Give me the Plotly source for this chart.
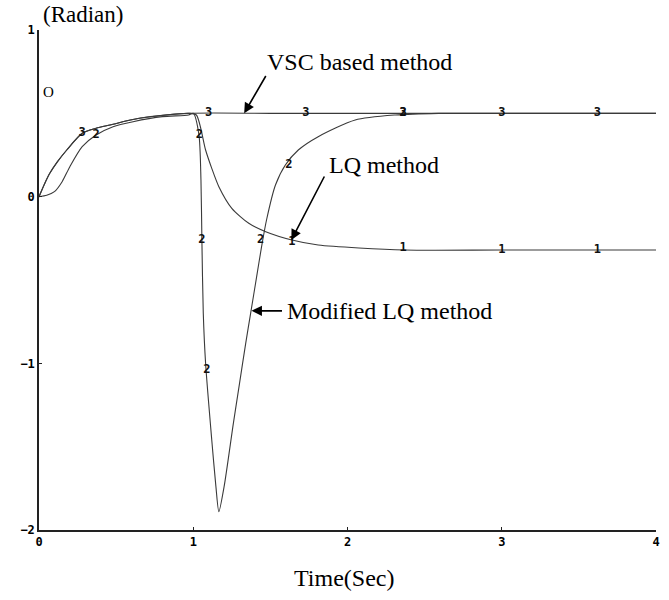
import plotly.graph_objects as go

# ---- data ----
vsc_t = [0, 0.035, 0.07, 0.12, 0.18, 0.28, 0.37, 0.46, 0.65, 0.97, 1.5, 2.0, 3.0, 4.0]
vsc_y = [0, 0.075, 0.14, 0.21, 0.28, 0.38, 0.41, 0.43, 0.47, 0.5, 0.5, 0.5, 0.5, 0.5]

lq_t = [0, 0.035, 0.07, 0.12, 0.18, 0.28, 0.37, 0.46, 0.65, 0.97, 1.02, 1.08, 1.12, 1.166, 1.25, 1.36, 1.47, 1.64, 1.81, 2.37, 3.0, 4.0]
lq_y = [0, 0.075, 0.14, 0.21, 0.28, 0.38, 0.41, 0.43, 0.47, 0.5, 0.49, 0.28, 0.17, 0.06, -0.07, -0.16, -0.21, -0.26, -0.29, -0.32, -0.32, -0.32]

mlq_t = [0, 0.05, 0.1, 0.15, 0.2, 0.28, 0.37, 0.48, 0.61, 0.8, 0.97, 1.0, 1.037, 1.05, 1.056, 1.065, 1.08, 1.12, 1.147, 1.166,
         1.20, 1.26, 1.30, 1.34, 1.372, 1.411, 1.443, 1.475, 1.533, 1.597, 1.681, 1.81, 2.05, 2.31, 2.59, 3.0, 4.0]
mlq_y = [0, 0.008, 0.03, 0.09, 0.18, 0.30, 0.37, 0.42, 0.45, 0.48, 0.49, 0.5, 0.37, 0.1, -0.26, -0.7, -1.0, -1.46, -1.74, -1.89,
         -1.74, -1.36, -1.12, -0.88, -0.70, -0.48, -0.30, -0.14, 0.07, 0.19, 0.28, 0.36, 0.46, 0.49, 0.5, 0.5, 0.5]

# curve id labels placed along the curves
lab3_t = [0.28, 1.1, 1.73, 2.36, 3.0, 3.62]
lab3_y = [0.38, 0.5, 0.5, 0.5, 0.5, 0.5]
lab2_t = [0.37, 1.04, 1.056, 1.089, 1.436, 1.62, 2.36]
lab2_y = [0.37, 0.37, -0.26, -1.04, -0.26, 0.19, 0.5]
lab1_t = [1.64, 2.36, 3.0, 3.62]
lab1_y = [-0.27, -0.31, -0.32, -0.32]

x_ticks = [0, 1, 2, 3, 4]
y_ticks = [-2, -1, 0, 1]

fig = go.Figure()
line_col = "#3a3a3a"
for t, y in [(vsc_t, vsc_y), (lq_t, lq_y), (mlq_t, mlq_y)]:
    fig.add_trace(go.Scatter(x=t, y=y, mode="lines",
                             line=dict(color=line_col, width=1.1, shape="spline", smoothing=0.7),
                             showlegend=False, hoverinfo="skip"))

lab_font = dict(family="DejaVu Sans Mono", size=12, color="#111", weight="bold")
for t, y, s in [(lab3_t, lab3_y, "3"), (lab2_t, lab2_y, "2"), (lab1_t, lab1_y, "1")]:
    fig.add_trace(go.Scatter(x=t, y=y, mode="text", text=[s] * len(t),
                             textfont=lab_font, textposition="middle center",
                             showlegend=False, hoverinfo="skip"))

serif = dict(family="Liberation Serif", size=24, color="black")
ann = []
# arrows
ann.append(dict(x=1.33, y=0.5, ax=1.476, ay=0.733, xref="x", yref="y", axref="x", ayref="y",
                text="", showarrow=True, arrowhead=2, arrowsize=1.3, arrowwidth=1.6, arrowcolor="black"))
ann.append(dict(x=1.636, y=-0.26, ax=1.855, ay=0.13, xref="x", yref="y", axref="x", ayref="y",
                text="", showarrow=True, arrowhead=2, arrowsize=1.3, arrowwidth=1.6, arrowcolor="black"))
ann.append(dict(x=1.378, y=-0.685, ax=1.585, ay=-0.685, xref="x", yref="y", axref="x", ayref="y",
                text="", showarrow=True, arrowhead=2, arrowsize=1.3, arrowwidth=1.6, arrowcolor="black"))
# texts
ann.append(dict(x=1.465, y=0.81, xref="x", yref="y", text="VSC based method", showarrow=False,
                xanchor="left", yanchor="middle", font=serif))
ann.append(dict(x=1.87, y=0.19, xref="x", yref="y", text="LQ method", showarrow=False,
                xanchor="left", yanchor="middle", font=serif))
ann.append(dict(x=1.595, y=-0.685, xref="x", yref="y", text="Modified LQ method", showarrow=False,
                xanchor="left", yanchor="middle", font=serif))
ann.append(dict(x=0.015, y=0.63, xref="x", yref="y", text="O", showarrow=False,
                xanchor="left", yanchor="middle", font=dict(family="Liberation Serif", size=15, color="black")))
ann.append(dict(x=0.015, y=1.03, xref="x", yref="paper", text="(Radian)", showarrow=False,
                xanchor="left", yanchor="middle", font=dict(family="Liberation Serif", size=23, color="black")))
ann.append(dict(x=1.98, y=-0.096, xref="x", yref="paper", text="Time(Sec)", showarrow=False,
                xanchor="center", yanchor="middle", font=serif))

tick_font = dict(family="DejaVu Sans Mono", size=12, color="black", weight="bold")
fig.update_layout(
    width=669, height=600,
    margin=dict(l=39, r=9, t=30, b=70),
    plot_bgcolor="white", paper_bgcolor="white",
    annotations=ann,
    xaxis=dict(range=[0, 4], tickvals=x_ticks, showgrid=False, zeroline=False,
               showline=True, linecolor="#222", linewidth=1.5, ticks="inside", ticklen=3,
               tickcolor="#222", tickfont=tick_font),
    yaxis=dict(range=[-2, 1], tickvals=y_ticks, showgrid=False, zeroline=False,
               showline=True, linecolor="#222", linewidth=1.5, ticks="inside", ticklen=3,
               tickcolor="#222", tickfont=tick_font),
)

fig.write_html("out.html")
